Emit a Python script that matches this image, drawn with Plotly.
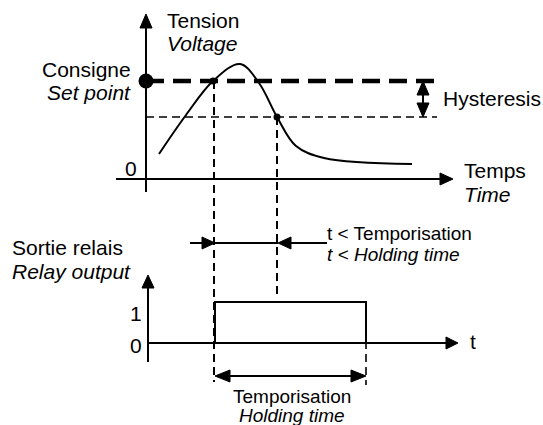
import plotly.graph_objects as go

# ---------------- data (diagram units) ----------------
# time axis: t units; voltage axis: V units (0 at time axis)
curve_t = [13, 40, 67, 94, 113, 131, 150, 178, 266]
curve_v = [25, 64, 98, 115, 96, 62, 33, 21, 15]
set_point = 98
hyst_low = 62
level_end_t = 291
t_cross_on = 67      # curve crosses set point
t_cross_off = 131    # curve crosses lower hysteresis level
relay_t = [69, 69, 220, 220]
relay_v = [0, 1, 1, 0]

W, H = 543, 425
FONT = "Liberation Sans, Arial, sans-serif"
MAIN = 21
SMALL = 19


def X(px):
    return px / W


def Y(py):
    return 1 - py / H


fig = go.Figure()

# voltage curve
fig.add_trace(go.Scatter(x=curve_t, y=curve_v, mode="lines",
                         line=dict(color="black", width=2, shape="spline", smoothing=1.0),
                         hoverinfo="skip"))
# set point (thick dashed) and hysteresis (thin dashed)
fig.add_trace(go.Scatter(x=[0, level_end_t], y=[set_point, set_point], mode="lines",
                         line=dict(color="black", width=4.5, dash="18px,9px"), hoverinfo="skip"))
fig.add_trace(go.Scatter(x=[0, level_end_t], y=[hyst_low, hyst_low], mode="lines",
                         line=dict(color="black", width=1.6, dash="8px,5px"), hoverinfo="skip"))
# dots
fig.add_trace(go.Scatter(x=[0], y=[set_point], mode="markers",
                         marker=dict(color="black", size=15), hoverinfo="skip"))
fig.add_trace(go.Scatter(x=[t_cross_on, t_cross_off], y=[set_point, hyst_low], mode="markers",
                         marker=dict(color="black", size=7), hoverinfo="skip"))
# relay pulse
fig.add_trace(go.Scatter(x=relay_t, y=relay_v, yaxis="y2", mode="lines",
                         line=dict(color="black", width=2), hoverinfo="skip"))

shapes = []


def line(x0, y0, x1, y1, w=2, dash=None):
    d = dict(type="line", xref="paper", yref="paper", x0=X(x0), y0=Y(y0), x1=X(x1), y1=Y(y1),
             line=dict(color="black", width=w))
    if dash:
        d["line"]["dash"] = dash
    shapes.append(d)


def head(tx, ty, bx, by, half=6):
    dx, dy = tx - bx, ty - by
    L = (dx * dx + dy * dy) ** 0.5
    nx, ny = -dy / L * half, dx / L * half
    pts = [(tx, ty), (bx + nx, by + ny), (bx - nx, by - ny)]
    path = "M " + " L ".join(f"{X(a):.5f},{Y(b):.5f}" for a, b in pts) + " Z"
    shapes.append(dict(type="path", xref="paper", yref="paper", path=path,
                       fillcolor="black", line=dict(color="black", width=1)))


# top axes
line(146, 192, 146, 26)
head(146, 14, 146, 28)
line(116, 179, 442, 179)
head(453, 179, 440, 179)
# hysteresis double arrow
line(423, 94, 423, 104)
head(423, 81, 423, 95)
head(423, 117, 423, 103)
# vertical dashed guides
line(214, 81, 214, 382, w=2, dash="8px,5px")
line(277, 117, 277, 298, w=2, dash="8px,5px")
line(366, 302, 366, 385, w=1.6, dash="8px,5px")
# relay axes
line(148, 362, 148, 286)
head(148, 275, 148, 288)
line(148, 343, 448, 343)
head(458, 343, 446, 343)
# t < temporisation arrows
line(190, 243, 204, 243)
head(215, 243, 202, 243)
line(215, 243, 278, 243)
head(278, 243, 291, 243)
line(290, 243, 327, 243)
# holding time double arrow
line(228, 376, 353, 376)
head(215, 376, 230, 376)
head(366, 376, 351, 376)

ann = []


def text(s, x, y, anchor="left", size=MAIN, italic=False):
    ann.append(dict(text=s, x=X(x), y=Y(y), xref="paper", yref="paper", showarrow=False,
                    xanchor=anchor, yanchor="middle", borderpad=0,
                    font=dict(family=FONT, size=size, color="black",
                              style="italic" if italic else "normal")))


text("Tension", 166, 20)
text("Voltage", 166, 43, italic=True)
text("Consigne", 132, 70, anchor="right")
text("Set point", 132, 93, anchor="right", italic=True)
text("0", 138, 168, anchor="right")
text("Hysteresis", 442, 98)
text("Temps", 463, 170)
text("Time", 463, 195, italic=True)
text("Sortie relais", 11, 247)
text("Relay output", 11, 271, italic=True)
text("1", 136, 313, anchor="center")
text("0", 136, 345, anchor="center")
text("t", 469, 341)
text("t < Temporisation", 326, 234, size=SMALL)
text("t < Holding time", 326, 254, size=SMALL, italic=True)
text("Temporisation", 292, 396, anchor="center", size=SMALL)
text("Holding time", 292, 415, anchor="center", size=SMALL, italic=True)

fig.update_layout(
    width=W, height=H, autosize=False,
    margin=dict(l=0, r=0, t=0, b=0, pad=0),
    paper_bgcolor="white", plot_bgcolor="white",
    showlegend=False,
    xaxis=dict(range=[-146, W - 146], visible=False, fixedrange=True),
    yaxis=dict(range=[179 - H, 179], visible=False, fixedrange=True),
    yaxis2=dict(range=[(343 - H) / 41, 343 / 41], visible=False, overlaying="y", fixedrange=True),
    shapes=shapes,
    annotations=ann,
)

fig.write_html("out.html", config={"displayModeBar": False, "staticPlot": True},
               post_script="document.body.style.margin='0';document.body.style.overflow='hidden';")
